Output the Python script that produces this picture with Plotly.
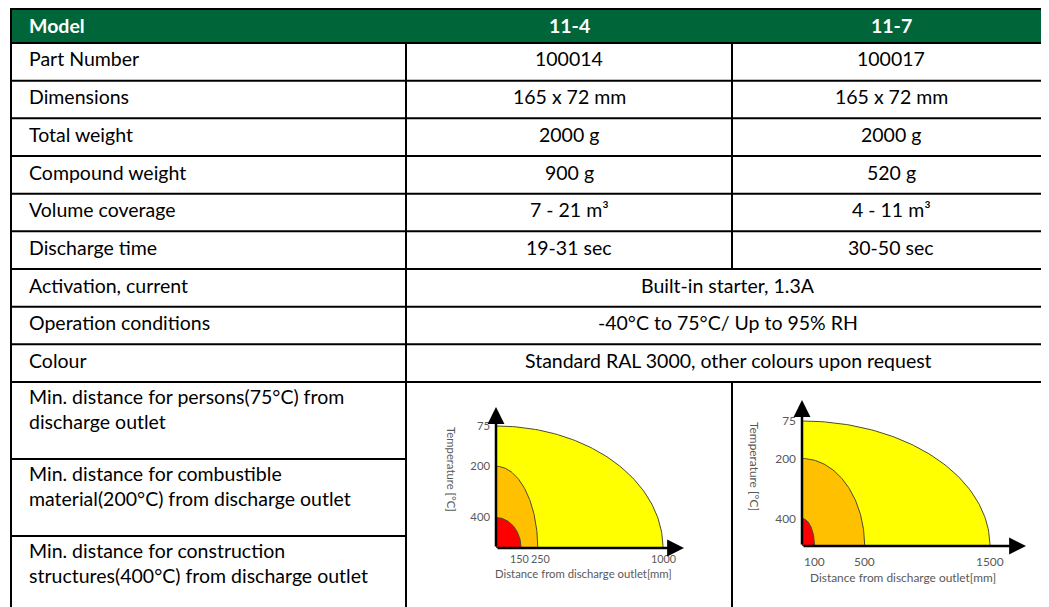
import numpy as np
import plotly.graph_objects as go

# ---------------- data ----------------
header = ["Model", "11-4", "11-7"]
row_labels = ["Part Number", "Dimensions", "Total weight", "Compound weight",
              "Volume coverage", "Discharge time", "Activation, current",
              "Operation conditions", "Colour"]
values_11_4 = ["100014", "165 x 72 mm", "2000 g", "900 g", "7 - 21 m³", "19-31 sec",
               "Built-in starter, 1.3A", "-40°C to 75°C/ Up to 95% RH",
               "Standard RAL 3000, other colours upon request"]
values_11_7 = ["100017", "165 x 72 mm", "2000 g", "520 g", "4 - 11 m³", "30-50 sec",
               None, None, None]  # None = merged with 11-4 cell
distance_labels = ["Min. distance for persons(75°C) from<br>discharge outlet",
                   "Min. distance for combustible<br>material(200°C) from discharge outlet",
                   "Min. distance for construction<br>structures(400°C) from discharge outlet"]

temperatures = [75, 200, 400]
dist_11_4 = [1000, 250, 150]      # mm
dist_11_7 = [1500, 500, 100]      # mm
heights_11_4 = [1.0, 0.67, 0.25]  # schematic zone heights (relative)
heights_11_7 = [1.0, 0.70, 0.22]

# ---------------- styles / layout ----------------
VW, VH = 1049, 607          # browser window
OFF = 8                     # default body margin of the page
W, H = VW - OFF, VH - OFF   # figure size
GREEN = "#00663A"
FONT = "Lato"
TSIZE = 19.5
GREY = "#595959"
zone_colors = ["#FFFF00", "#FFC000", "#FF0000"]

X_LEFT, X_C1, X_C2, X_RIGHT = 11, 406, 732, 1050
Y_TOP, Y_HEAD = 8, 43
ROW_H = 37.67
BIG_H = 77


def px(x):
    return (x - OFF) / W


def py(y):
    return 1 - (y - OFF) / H


fig = go.Figure()
shapes = []
annotations = []

# header background
shapes.append(dict(type="rect", xref="paper", yref="paper", x0=px(X_LEFT), x1=px(X_RIGHT + 10),
                   y0=py(Y_TOP), y1=py(Y_HEAD), fillcolor=GREEN, line_width=0, layer="below"))

line_style = dict(color="black", width=2)


def hline(y, x0=X_LEFT, x1=X_RIGHT + 10):
    shapes.append(dict(type="line", xref="paper", yref="paper", x0=px(x0), x1=px(x1),
                       y0=py(y), y1=py(y), line=line_style, layer="above"))


def vline(x, y0, y1):
    shapes.append(dict(type="line", xref="paper", yref="paper", x0=px(x), x1=px(x),
                       y0=py(y0), y1=py(y1), line=line_style, layer="above"))


def text(x, y, s, anchor="left", bold=False, color="black", size=TSIZE):
    annotations.append(dict(xref="paper", yref="paper", x=px(x), y=py(y), text=s,
                            showarrow=False, xanchor=anchor, yanchor="middle",
                            align=anchor,
                            font=dict(family=FONT, size=size, color=color,
                                      weight="bold" if bold else "normal")))


# header
hline(Y_TOP + 1)
hline(Y_HEAD)
hy = (Y_TOP + Y_HEAD) / 2
text(27, hy, header[0], bold=True, color="white")
text((X_C1 + X_C2) / 2, hy, header[1], anchor="center", bold=True, color="white")
text((X_C2 + X_RIGHT) / 2, hy, header[2], anchor="center", bold=True, color="white")

# regular rows
y = Y_HEAD
for lab, v1, v2 in zip(row_labels, values_11_4, values_11_7):
    y_next = y + ROW_H
    hline(y_next)
    vline(X_C1, y, y_next)
    text(27, y + 16, lab)
    if v2 is None:
        text((X_C1 + X_RIGHT) / 2, y + 16, v1, anchor="center")
    else:
        vline(X_C2, y, y_next)
        text((X_C1 + X_C2) / 2, y + 16, v1, anchor="center")
        text((X_C2 + X_RIGHT) / 2, y + 16, v2, anchor="center")
    y = y_next

# distance rows (chart cells merged vertically)
y_dist_top = y
for i, lab in enumerate(distance_labels):
    y_next = y + BIG_H
    if i < len(distance_labels) - 1:
        hline(y_next, X_LEFT, X_C1)
    annotations.append(dict(xref="paper", yref="paper", x=px(27), y=py(y + 1), text=lab,
                            showarrow=False, xanchor="left", yanchor="top", align="left",
                            font=dict(family=FONT, size=TSIZE, color="black")))
    y = y_next
vline(X_C1, y_dist_top, y)
vline(X_C2, y_dist_top, y)
vline(X_LEFT, Y_TOP, y)

# ---------------- mini charts ----------------
charts = [
    dict(dist=dist_11_4, heights=heights_11_4, xa="x", ya="y",
         origin=(496, 548), tip=(684, 407), px_per_unit_x=0.167, px_per_unit_y=122,
         ytitle=(452, 469), xtitle=(583, 573), fsize=11.3, tsize=10.8, label_dy=-3,
         label_dx=[0, 3, -2]),
    dict(dist=dist_11_7, heights=heights_11_7, xa="x2", ya="y2",
         origin=(802, 546), tip=(1026, 400), px_per_unit_x=0.1253, px_per_unit_y=125,
         ytitle=(755, 466), xtitle=(903, 577), fsize=11.9, tsize=11.9, label_dy=-7,
         label_dx=[0, 0, 0]),
]

theta = np.linspace(0, np.pi / 2, 80)
layout_axes = {}
for k, c in enumerate(charts):
    ox, oy = c["origin"]
    tx, ty = c["tip"]
    xmax = (tx - ox) / c["px_per_unit_x"]
    ymax = (oy - ty) / c["px_per_unit_y"]
    for d, h, col in zip(c["dist"], c["heights"], zone_colors):
        xs = np.concatenate([[0], d * np.cos(theta), [0]])
        ys = np.concatenate([[0], h * np.sin(theta), [0]])
        fig.add_trace(go.Scatter(x=xs, y=ys, fill="toself", fillcolor=col, mode="lines",
                                 line=dict(color="#4a4a30", width=1), hoverinfo="skip",
                                 xaxis=c["xa"], yaxis=c["ya"], showlegend=False))
    xname = "xaxis" if k == 0 else "xaxis2"
    yname = "yaxis" if k == 0 else "yaxis2"
    tickfont_y = dict(family=FONT, size=c["fsize"], color=GREY)
    layout_axes[xname] = dict(domain=[px(ox), px(tx)], range=[0, xmax], anchor=c["ya"],
                              showgrid=False, zeroline=False, showline=False, ticks="",
                              showticklabels=False, fixedrange=True)
    layout_axes[yname] = dict(domain=[py(oy), py(ty)], range=[0, ymax], anchor=c["xa"],
                              showgrid=False, zeroline=False, showline=False, ticks="",
                              tickvals=c["heights"], ticktext=[str(t) for t in temperatures],
                              tickfont=tickfont_y, fixedrange=True, ticklabelstandoff=5)
    # distance labels under the x axis (placed at the data value)
    for d, dx in zip(c["dist"], c["label_dx"]):
        annotations.append(dict(xref=c["xa"], yref=c["ya"], x=d, y=0, text=str(d),
                                showarrow=False, xanchor="center", yanchor="top",
                                xshift=dx, yshift=c["label_dy"], borderpad=0,
                                font=dict(family=FONT, size=c["tsize"], color=GREY)))
    # axis arrows
    annotations.append(dict(xref=c["xa"], yref=c["ya"], axref=c["xa"], ayref=c["ya"],
                            x=xmax, y=0, ax=0, ay=0, text="", showarrow=True,
                            arrowhead=2, arrowsize=1.35, arrowwidth=2.5, arrowcolor="black"))
    annotations.append(dict(xref=c["xa"], yref=c["ya"], axref=c["xa"], ayref=c["ya"],
                            x=0, y=ymax, ax=0, ay=0, text="", showarrow=True,
                            arrowhead=2, arrowsize=1.35, arrowwidth=2.5, arrowcolor="black"))
    # axis titles
    annotations.append(dict(xref="paper", yref="paper", x=px(c["ytitle"][0]), y=py(c["ytitle"][1]),
                            text="Temperature [°C]", textangle=90, showarrow=False,
                            xanchor="center", yanchor="middle",
                            font=dict(family=FONT, size=c["fsize"], color=GREY)))
    annotations.append(dict(xref="paper", yref="paper", x=px(c["xtitle"][0]), y=py(c["xtitle"][1]),
                            text="Distance from discharge outlet[mm]", showarrow=False,
                            xanchor="center", yanchor="middle",
                            font=dict(family=FONT, size=c["fsize"], color=GREY)))

fig.update_layout(width=W, height=H, margin=dict(l=0, r=0, t=0, b=0),
                  paper_bgcolor="white", plot_bgcolor="rgba(0,0,0,0)",
                  showlegend=False, shapes=shapes, annotations=annotations,
                  **layout_axes)

fig.write_html("out.html")
